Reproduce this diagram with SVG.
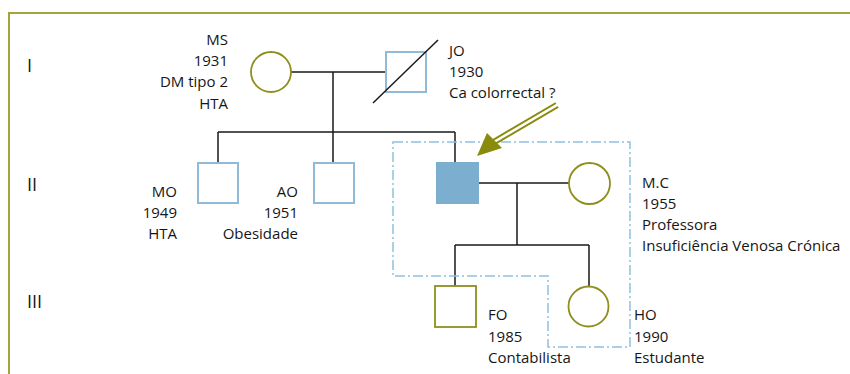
<svg xmlns="http://www.w3.org/2000/svg" width="850" height="374" viewBox="0 0 850 374">
<style>
text{font-family:"Open Sans","Noto Sans","DejaVu Sans",sans-serif;font-size:15px;fill:#161616}
.gen{font-size:18px}
.r{text-anchor:end}
.line{stroke:#1a1a1a;stroke-width:1.5;fill:none}
.m{fill:#fff;stroke:#8fbad8;stroke-width:2}
.f{fill:#fff;stroke:#8f8f1e;stroke-width:1.8}
</style>
<rect width="850" height="374" fill="#fff"/>
<path d="M9,374 V13 H850" fill="none" stroke="#a3a43c" stroke-width="2"/>
<g id="generations">
<text class="gen" x="27" y="72">I</text>
<text class="gen" x="27" y="191">II</text>
<text class="gen" x="27" y="308">III</text>
</g>
<g id="connectors">
<path class="line" d="M291,72 H386 M333,72 V132 M218,132 H455 M218,132 V163 M333,132 V163 M455,132 V162 M479,183 H569 M517,183 V245 M455,245 H589 M455,245 V286 M589,245 V286"/>
<polygon points="393,142 630,142 630,347 548,347 548,276 393,276" fill="none" stroke="#8ec0e0" stroke-width="1.5" stroke-dasharray="10,3,2,3"/>
<g id="arrow">
<line x1="557" y1="105" x2="494" y2="142" stroke="#8a8a0e" stroke-width="6.5"/>
<line x1="558" y1="104.3" x2="494" y2="142" stroke="#fff" stroke-width="2.5"/>
<polygon points="477,156 487,133 502,148" fill="#8a8a0e"/>
</g>
</g>
<g id="MS">
<circle class="f" cx="271" cy="72" r="20"/>
<text class="r" x="228" y="44.5">MS</text>
<text class="r" x="228" y="66">1931</text>
<text class="r" x="228" y="87">DM tipo 2</text>
<text class="r" x="228" y="108.5">HTA</text>
</g>
<g id="JO">
<rect class="m" x="386" y="52" width="40" height="40"/>
<line x1="373" y1="103" x2="438" y2="40" stroke="#1a1a1a" stroke-width="1.5"/>
<text x="449" y="56">JO</text>
<text x="449" y="77">1930</text>
<text x="449" y="98">Ca colorrectal ?</text>
</g>
<g id="MO">
<rect class="m" x="198" y="163" width="40" height="40"/>
<text class="r" x="177" y="197">MO</text>
<text class="r" x="177" y="218">1949</text>
<text class="r" x="177" y="239">HTA</text>
</g>
<g id="AO">
<rect class="m" x="314" y="163" width="40" height="40"/>
<text class="r" x="298" y="197">AO</text>
<text class="r" x="298" y="218">1951</text>
<text class="r" x="298" y="239">Obesidade</text>
</g>
<g id="proband">
<rect x="436" y="162" width="43" height="42" fill="#7cafcf"/>
</g>
<g id="MC">
<circle class="f" cx="589.5" cy="183.5" r="20.5"/>
<text x="642" y="188">M.C</text>
<text x="642" y="209">1955</text>
<text x="642" y="230">Professora</text>
<text x="642" y="251">Insuficiência Venosa Crónica</text>
</g>
<g id="FO">
<rect class="f" x="435" y="286" width="41" height="41"/>
<text x="488" y="320">FO</text>
<text x="488" y="341.5">1985</text>
<text x="488" y="363">Contabilista</text>
</g>
<g id="HO">
<circle class="f" cx="588.5" cy="306.5" r="20"/>
<text x="634" y="320">HO</text>
<text x="634" y="341.5">1990</text>
<text x="634" y="363">Estudante</text>
</g>
</svg>
